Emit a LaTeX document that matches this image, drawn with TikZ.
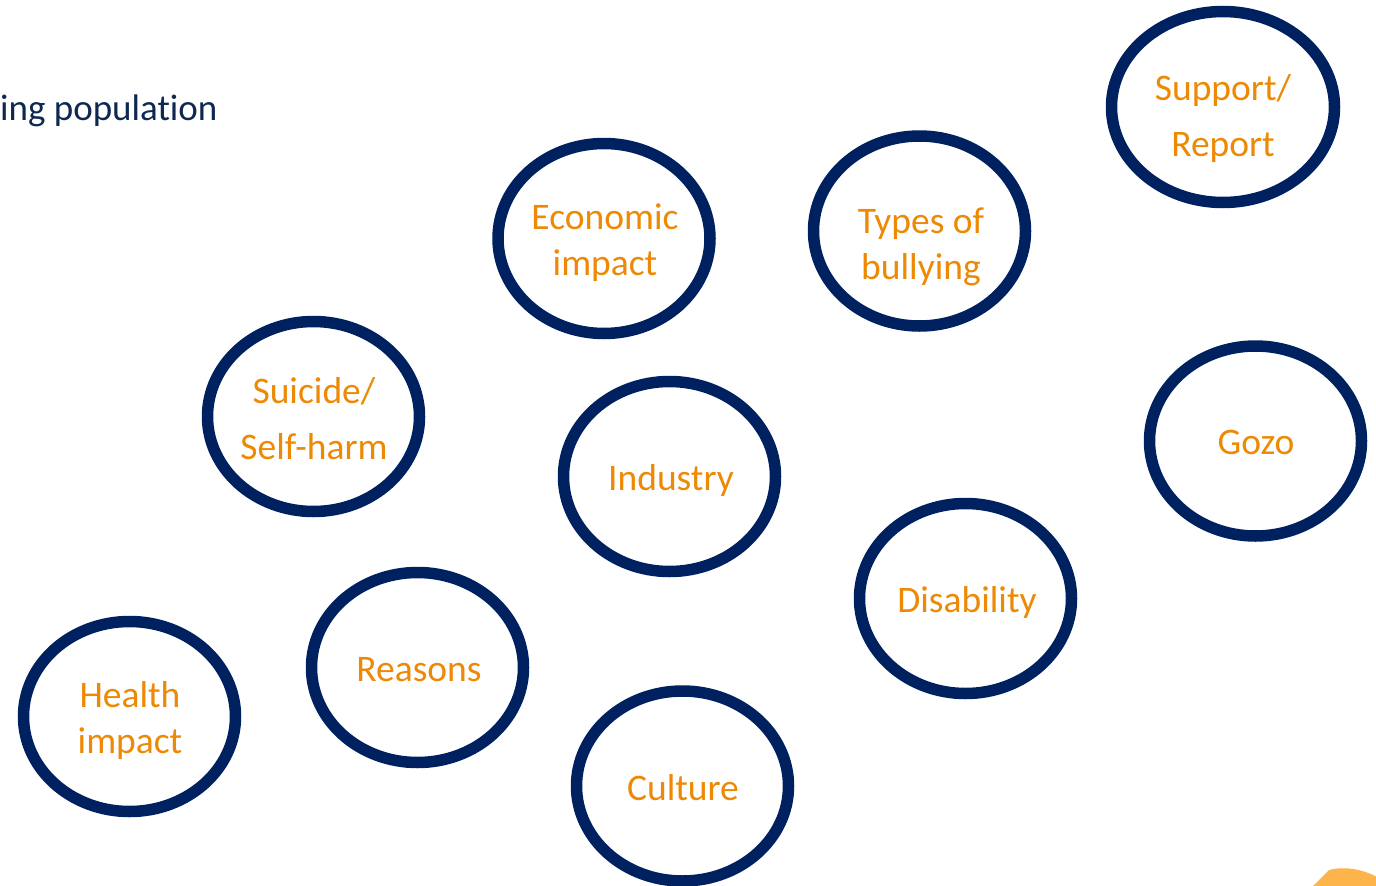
\documentclass[tikz,border=0pt]{standalone}
\usepackage{fontspec}
\setmainfont{Carlito}[Ligatures=NoCommon, Contextuals=NoAlternate]
\usetikzlibrary{shapes.geometric}
\definecolor{ringnavy}{RGB}{0,33,96}
\definecolor{labelorange}{RGB}{237,137,4}
\definecolor{titlenavy}{RGB}{14,40,80}
\definecolor{blobamber}{RGB}{253,180,75}
\begin{document}
\begin{tikzpicture}[x=1pt,y=-1pt,
  ring/.style={ellipse, draw=ringnavy, line width=11.5pt, inner sep=0pt,
    minimum width=212pt, minimum height=190pt},
  lbl/.style={text=labelorange, inner sep=0pt, anchor=base,
    font=\fontsize{37.5}{46}\selectfont},
  lblwide/.style={lbl, font=\fontsize{37.5}{56}\selectfont}]
\useasboundingbox (0,0) rectangle (1376,886);

% corner shape at lower right
\fill[blobamber] (1312,887) -- (1329,870) .. controls (1345,866) and (1362,869) .. (1377,877) -- (1377,887) -- cycle;

% heading fragment
\node[text=titlenavy, inner sep=0pt, anchor=base west,
  font=\fontsize{37}{46}\selectfont] (title) at (0,120) {ing populat\kern0pt ion};

% topic rings
\node[ring, minimum width=223pt, minimum height=191pt] (support) at (1223,107) {};
\node[ring] (economic) at (604,238.5) {};
\node[ring] (types) at (919.5,231) {};
\node[ring] (suicide) at (313.5,416.5) {};
\node[ring] (industry) at (669.5,476.5) {};
\node[ring] (gozo) at (1255.5,441) {};
\node[ring] (disability) at (965.5,598.5) {};
\node[ring] (health) at (129.5,716.5) {};
\node[ring] (reasons) at (417.5,667.5) {};
\node[ring] (culture) at (682.5,786) {};

% ring labels (positioned at the first baseline)
\node[lblwide] (supportT) at (1223,100) {\begin{tabular}[t]{@{}c@{}}Support/\\Report\end{tabular}};
\node[lbl] (economicT) at (605,229) {\begin{tabular}[t]{@{}c@{}}Economic\\impact\end{tabular}};
\node[lbl] (typesT) at (921,233) {\begin{tabular}[t]{@{}c@{}}Types of\\bullying\end{tabular}};
\node[lblwide] (suicideT) at (314,403) {\begin{tabular}[t]{@{}c@{}}Suicide/\\Self-harm\end{tabular}};
\node[lbl] (industryT) at (671,490) {Industry};
\node[lbl] (gozoT) at (1256,454) {Gozo};
\node[lbl] (disabilityT) at (967,612) {Disability};
\node[lbl] (healthT) at (130,707) {\begin{tabular}[t]{@{}c@{}}Health\\impact\end{tabular}};
\node[lbl] (reasonsT) at (419,681) {Reasons};
\node[lbl] (cultureT) at (683,800) {Culture};
\end{tikzpicture}
\end{document}
